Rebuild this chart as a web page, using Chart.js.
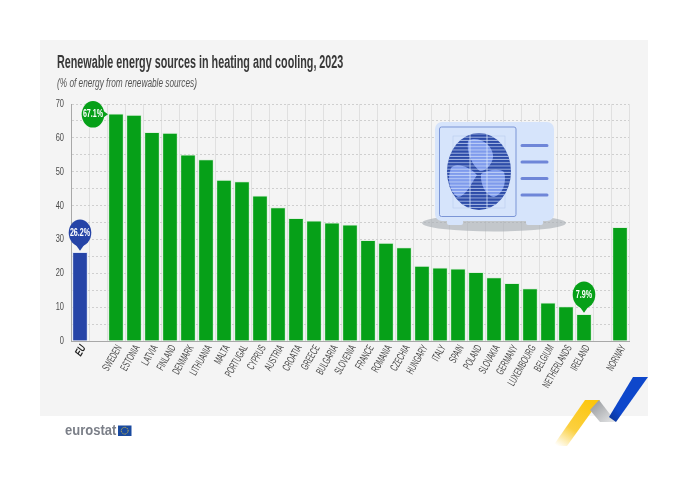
<!DOCTYPE html>
<html>
<head>
<meta charset="utf-8">
<title>Renewable energy sources in heating and cooling, 2023</title>
<script src="https://cdn.jsdelivr.net/npm/chart.js@4/dist/chart.umd.min.js"></script>
<style>
  html, body { margin: 0; padding: 0; background: #fff; }
  #page { position: relative; width: 688px; height: 486px; overflow: hidden; font-family: "Liberation Sans", sans-serif; }
  #panel { position: absolute; left: 40px; top: 40px; width: 608px; height: 376px; background: #f4f4f4; }
  #title, #subtitle, #logo { position: absolute; white-space: nowrap; transform-origin: left center; }
  #title { left: 57px; top: 52px; font-size: 17.5px; font-weight: bold; color: #383838; transform: scaleX(0.616); }
  #subtitle { left: 57px; top: 76px; font-size: 12px; font-style: italic; color: #555; transform: scaleX(0.688); }
  #logo { left: 65px; top: 421px; font-size: 15.5px; font-weight: bold; color: #7b7f88; transform: scaleX(0.84); }
  svg.deco { position: absolute; left: 0; top: 0; pointer-events: none; }
</style>
</head>
<body>
<div id="page">
  <div id="panel"></div>
  <canvas id="chart" width="688" height="486" style="position:absolute;left:0;top:0"></canvas>
  <div id="title">Renewable energy sources in heating and cooling, 2023</div>
  <div id="subtitle">(% of energy from renewable sources)</div>
  <div id="logo">eurostat</div>

  <!-- decoration only: heat pump picture, ribbon and logo flag -->
  <svg class="deco" width="688" height="486" viewBox="0 0 688 486">
    <defs>
      <pattern id="stripes" width="3" height="3.2" patternUnits="userSpaceOnUse">
        <rect width="3" height="0.9" y="2.3" fill="#d6e4fb" fill-opacity="0.75"/>
      </pattern>
      <linearGradient id="yellow" x1="0.75" y1="0" x2="0.1" y2="1">
        <stop offset="0" stop-color="#fcc60e"/>
        <stop offset="0.6" stop-color="#fbd040"/>
        <stop offset="1" stop-color="#ffffff"/>
      </linearGradient>
      <linearGradient id="grey" x1="0" y1="0" x2="1" y2="1">
        <stop offset="0" stop-color="#8f9296"/>
        <stop offset="1" stop-color="#e8e9ea"/>
      </linearGradient>
      <linearGradient id="blue" x1="1" y1="0" x2="0" y2="1">
        <stop offset="0" stop-color="#0e47cb"/>
        <stop offset="0.75" stop-color="#0e47cb"/>
        <stop offset="1" stop-color="#08308f"/>
      </linearGradient>
    </defs>

    <ellipse cx="494" cy="223" rx="72" ry="8.5" fill="#a9afb6" fill-opacity="0.65"/>
    <rect x="447" y="212" width="16" height="13" rx="2" fill="#d6e4fb"/>
    <rect x="526" y="212" width="17" height="13" rx="2" fill="#d6e4fb"/>
    <rect x="435" y="122" width="119" height="99" rx="7" fill="#d6e4fb"/>
    <rect x="439.5" y="127" width="76.5" height="89.5" rx="2" fill="none" stroke="#7b95d6" stroke-width="1"/>
    <rect x="453" y="136" width="52" height="72" fill="none" stroke="#b5c6ea" stroke-width="0.5"/>
    <ellipse cx="479" cy="171.5" rx="32" ry="38.5" fill="#2c4ba8"/>
    <path d="M468 141 C476 135 492 143 493 155 C494 163 485 172 480 171 C474 167 466 154 468 141Z" fill="#7f9bec"/>
    <path d="M477 175 C470 167 456 162 451 168 C447 178 449 192 458 197 C465 197 471 184 477 175Z" fill="#7f9bec"/>
    <path d="M481 174 C487 170 499 168 504 172 C507 182 503 194 494 197 C486 196 480 184 481 174Z" fill="#7f9bec"/>
    <ellipse cx="479" cy="171.5" rx="32" ry="38.5" fill="url(#stripes)"/>
    <path d="M470 133V210M487 133V210" stroke="#d6e4fb" stroke-width="0.8" fill="none"/>
    <path d="M522 145.5H547M522 162H547M522 178.5H547M522 195H547" stroke="#6f86d8" stroke-width="3" stroke-linecap="round" fill="none"/>

    <polygon points="585,400 600,400 567,446 553,446" fill="url(#yellow)"/>
    <polygon points="599,400 616,422 600,422 590,410" fill="url(#grey)"/>
    <polygon points="633,377 648,377 616,422 609,417" fill="url(#blue)"/>

    <rect x="118" y="425.5" width="13.5" height="10.5" fill="#1a4a9f"/>
    <circle cx="124.7" cy="430.7" r="3.4" fill="none" stroke="#e9c93a" stroke-width="0.9" stroke-dasharray="1 0.8"/>
  </svg>
</div>

<script>
// Chart data, blanks are the gaps either side of the EU and Norway
const categories = ["EU", "", "SWEDEN", "ESTONIA", "LATVIA", "FINLAND", "DENMARK", "LITHUANIA", "MALTA", "PORTUGAL", "CYPRUS", "AUSTRIA", "CROATIA", "GREECE", "BULGARIA", "SLOVENIA", "FRANCE", "ROMANIA", "CZECHIA", "HUNGARY", "ITALY", "SPAIN", "POLAND", "SLOVAKIA", "GERMANY", "LUXEMBOURG", "BELGIUM", "NETHERLANDS", "IRELAND", "", "NORWAY"];
const shares = [26.2, null, 67.1, 66.7, 61.6, 61.4, 55.0, 53.6, 47.5, 47.1, 42.9, 39.4, 36.2, 35.5, 34.9, 34.3, 29.7, 28.9, 27.6, 22.1, 21.6, 21.3, 20.3, 18.7, 17.0, 15.5, 11.3, 10.2, 7.9, null, 33.6];
const calloutCategories = ["EU", "SWEDEN", "IRELAND"];
const calloutLabels = ["26.2%", "67.1%", "7.9%"];

const GREEN = "#06a018";
const BLUE = "#2644a7";
const FONT = '"Liberation Sans", sans-serif';

// No narrow font is installed, so text gets squeezed sideways by hand
function narrowText(ctx, text, x, y, squeeze) {
  ctx.save();
  ctx.translate(x, y);
  ctx.scale(squeeze, 1);
  ctx.fillText(text, 0, 0);
  ctx.restore();
}

// Axis labels, placed from the library's own scales
const axisLabelPlugin = {
  id: "axisLabels",
  afterDraw(chart) {
    const ctx = chart.ctx;
    const xScale = chart.scales.x;
    const yScale = chart.scales.y;

    ctx.save();
    ctx.textBaseline = "middle";
    ctx.textAlign = "right";
    ctx.fillStyle = "#4a4a4a";
    ctx.font = "11px " + FONT;
    yScale.ticks.forEach((tick, i) => {
      if (tick.label !== "") {
        narrowText(ctx, tick.label, 64, yScale.getPixelForTick(i), 0.68);
      }
    });

    xScale.ticks.forEach((tick, i) => {
      ctx.save();
      ctx.translate(xScale.getPixelForTick(i) + 3.5, yScale.bottom + 5);
      ctx.rotate((-60 * Math.PI) / 180);
      ctx.font = (i === 0 ? "italic bold " : "") + "11px " + FONT;
      ctx.fillStyle = i === 0 ? "#222" : "#4a4a4a";
      narrowText(ctx, tick.label, 0, 0, i === 0 ? 0.7 : 0.58);
      ctx.restore();
    });
    ctx.restore();
  },
};

// Draws the speech-bubble labels on top of the highlighted bars
const calloutPlugin = {
  id: "callouts",
  afterDatasetsDraw(chart) {
    const ctx = chart.ctx;
    const bars = chart.getDatasetMeta(0).data;

    calloutCategories.forEach((name, i) => {
      const bar = bars[categories.indexOf(name)];
      const onLeft = name === "SWEDEN";
      const tipX = onLeft ? bar.x - 8 : bar.x;
      const tipY = onLeft ? bar.y + 0.5 : bar.y - 1.5;
      const cx = onLeft ? tipX - 15 : tipX;
      const cy = onLeft ? tipY : tipY - 18;

      ctx.save();
      ctx.fillStyle = name === "EU" ? BLUE : GREEN;
      ctx.beginPath();
      ctx.ellipse(cx, cy, 11.3, 13.3, 0, 0, Math.PI * 2);
      ctx.fill();
      ctx.beginPath();
      if (onLeft) {
        ctx.moveTo(tipX, tipY);
        ctx.lineTo(tipX - 7, tipY - 5);
        ctx.lineTo(tipX - 7, tipY + 5);
      } else {
        ctx.moveTo(tipX, tipY);
        ctx.lineTo(tipX - 5, tipY - 7);
        ctx.lineTo(tipX + 5, tipY - 7);
      }
      ctx.fill();
      ctx.fillStyle = "#fff";
      ctx.font = "bold 10.5px " + FONT;
      ctx.textAlign = "center";
      ctx.textBaseline = "middle";
      narrowText(ctx, calloutLabels[i], cx, cy, 0.68);
      ctx.restore();
    });
  },
};

const chart = new Chart(document.getElementById("chart"), {
  type: "bar",
  data: {
    labels: categories,
    datasets: [
      {
        data: shares,
        backgroundColor: (c) => (c.index === 0 ? BLUE : GREEN),
        borderColor: (c) => (c.index === 0 ? "#dfe5f5" : "#dff0df"),
        borderWidth: 1,
        barThickness: 15,
      },
    ],
  },
  options: {
    responsive: false,
    animation: false,
    devicePixelRatio: 1,
    layout: { padding: { left: 40, right: 59, top: 104, bottom: 70 } },
    plugins: {
      legend: { display: false },
      title: { display: false },
      tooltip: { enabled: false },
    },
    scales: {
      x: {
        offset: true,
        afterFit: (scale) => { scale.height = 75; },
        border: { color: "#a8a8a8", width: 1 },
        grid: { color: "#e0e0e0", drawTicks: false, offset: true },
        ticks: { autoSkip: false, display: false },
      },
      y: {
        min: 0,
        max: 70,
        afterFit: (scale) => { scale.width = 31; },
        border: { color: "#a8a8a8", width: 1, dash: [2, 2] },
        grid: { color: "#cfcfcf", drawTicks: false },
        ticks: {
          stepSize: 5,
          display: false,
          callback: (value) => (value % 10 === 0 ? String(value) : ""),
        },
      },
    },
  },
  plugins: [calloutPlugin, axisLabelPlugin],
});
</script>
</body>
</html>
